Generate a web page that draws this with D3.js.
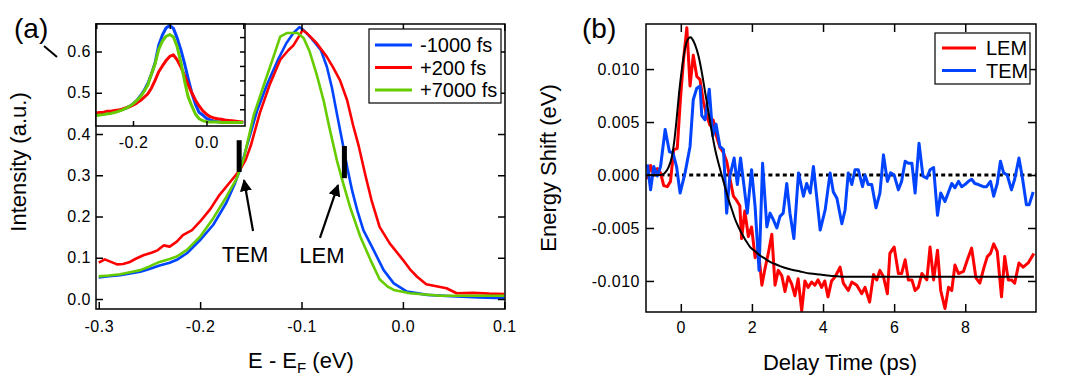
<!DOCTYPE html>
<html>
<head>
<meta charset="utf-8">
<script src="https://cdn.jsdelivr.net/npm/d3@7"></script>
<style>
body { margin: 0; background: #fff; }
svg text { font-family: "Liberation Sans", Arial, sans-serif; fill: #000; }
.tick text { font-size: 16px; letter-spacing: 0.5px; }
.tick line { stroke: #000; stroke-width: 1.5; }
</style>
</head>
<body>
<svg id="chart" width="1080" height="381"></svg>
<script>
// ---- panel (a): spectra, [E - EF (eV), intensity (a.u.)]
const specLabels = ['-1000 fs', '+200 fs', '+7000 fs'];
const specColors = ['#0044ff', '#ff0000', '#66cc00'];

const specBlue = [[-0.300,0.052],[-0.290,0.055],[-0.279,0.058],[-0.269,0.062],[-0.259,0.066],[-0.250,0.073],[-0.240,0.081],[-0.230,0.088],[-0.223,0.095],[-0.213,0.111],[-0.200,0.143],[-0.187,0.180],[-0.174,0.234],[-0.166,0.278],[-0.160,0.318],[-0.154,0.370],[-0.144,0.455],[-0.134,0.520],[-0.124,0.576],[-0.115,0.620],[-0.108,0.645],[-0.102,0.659],[-0.098,0.652],[-0.091,0.634],[-0.081,0.604],[-0.075,0.563],[-0.070,0.512],[-0.065,0.448],[-0.060,0.385],[-0.055,0.320],[-0.050,0.262],[-0.045,0.215],[-0.039,0.167],[-0.029,0.119],[-0.019,0.070],[-0.009,0.038],[0.004,0.018],[0.024,0.010],[0.053,0.006],[0.075,0.004],[0.100,0.002]];

const specRed = [[-0.300,0.088],[-0.294,0.096],[-0.288,0.090],[-0.282,0.084],[-0.276,0.085],[-0.270,0.089],[-0.264,0.097],[-0.256,0.106],[-0.248,0.112],[-0.242,0.118],[-0.236,0.130],[-0.230,0.127],[-0.223,0.139],[-0.217,0.155],[-0.208,0.167],[-0.200,0.188],[-0.190,0.218],[-0.181,0.252],[-0.170,0.285],[-0.161,0.312],[-0.155,0.338],[-0.150,0.372],[-0.141,0.452],[-0.131,0.522],[-0.121,0.580],[-0.113,0.603],[-0.108,0.615],[-0.103,0.635],[-0.099,0.652],[-0.095,0.645],[-0.085,0.620],[-0.075,0.587],[-0.069,0.562],[-0.062,0.530],[-0.055,0.482],[-0.049,0.420],[-0.044,0.375],[-0.037,0.300],[-0.031,0.240],[-0.023,0.175],[-0.013,0.135],[0.000,0.095],[0.007,0.072],[0.014,0.054],[0.023,0.036],[0.033,0.031],[0.043,0.026],[0.053,0.014],[0.069,0.015],[0.085,0.013],[0.100,0.012]];

const specGreen = [[-0.300,0.055],[-0.290,0.057],[-0.279,0.060],[-0.269,0.065],[-0.259,0.070],[-0.250,0.079],[-0.240,0.090],[-0.230,0.097],[-0.223,0.103],[-0.213,0.119],[-0.200,0.151],[-0.187,0.196],[-0.174,0.248],[-0.164,0.292],[-0.157,0.340],[-0.147,0.447],[-0.137,0.520],[-0.127,0.592],[-0.121,0.636],[-0.114,0.645],[-0.104,0.645],[-0.098,0.633],[-0.092,0.600],[-0.085,0.544],[-0.078,0.479],[-0.072,0.410],[-0.065,0.335],[-0.060,0.290],[-0.052,0.222],[-0.042,0.151],[-0.032,0.095],[-0.023,0.048],[-0.015,0.030],[-0.009,0.022],[0.007,0.014],[0.037,0.008],[0.070,0.008],[0.100,0.008]];

// inset spectra on a common energy grid
const insetE = d3.range(41).map(i => +(-0.30 + i * 0.01).toFixed(2));
const insetBlue = [0.447,0.448,0.449,0.450,0.452,0.454,0.456,0.459,0.462,0.467,0.473,0.481,0.492,0.505,0.522,0.545,0.572,0.615,0.640,0.657,0.663,0.656,0.633,0.605,0.572,0.535,0.500,0.472,0.452,0.446,0.438,0.434,0.431,0.430,0.429,0.429,0.428,0.428,0.428,0.428,0.428];
const insetRed = [0.451,0.452,0.453,0.455,0.455,0.457,0.458,0.460,0.463,0.466,0.470,0.475,0.481,0.489,0.497,0.511,0.530,0.551,0.565,0.578,0.588,0.592,0.580,0.563,0.542,0.520,0.500,0.482,0.468,0.456,0.448,0.442,0.439,0.437,0.436,0.434,0.433,0.432,0.431,0.430,0.429];
const insetGreen = [0.445,0.446,0.447,0.449,0.450,0.452,0.455,0.458,0.462,0.467,0.473,0.481,0.490,0.503,0.518,0.545,0.570,0.605,0.625,0.637,0.641,0.635,0.612,0.575,0.530,0.490,0.468,0.448,0.437,0.432,0.430,0.429,0.429,0.429,0.428,0.428,0.428,0.428,0.428,0.428,0.428];

const energyTicks = [-0.3, -0.2, -0.1, 0.0, 0.1];
const intensityTicks = [0.0, 0.1, 0.2, 0.3, 0.4, 0.5, 0.6];
const insetXTicks = [-0.2, 0.0];
const insetTopTicks = [-0.3, -0.1, 0.1];
const insetLeftTicks = [0.5, 0.6];
const insetRightTicks = [0.46, 0.495, 0.53, 0.565, 0.6, 0.635];

// ---- panel (b): energy shift vs delay, [delay (ps), shift (eV)]
const shiftLabels = ['LEM', 'TEM'];
const shiftColors = ['#ff0000', '#0044ff'];

const lemShift = [[-0.94,-0.0004],[-0.85,0.0009],[-0.76,0.0000],[-0.66,0.0006],[-0.57,0.0002],[-0.48,-0.0010],[-0.38,-0.0011],[-0.29,-0.0006],[-0.20,0.0024],[-0.10,0.0025],[-0.01,0.0072],[0.08,0.0110],[0.17,0.0139],[0.26,0.0084],[0.35,0.0113],[0.45,0.0093],[0.54,0.0090],[0.63,0.0070],[0.73,0.0056],[0.82,0.0047],[0.91,0.0052],[1.01,0.0036],[1.10,0.0026],[1.20,0.0021],[1.29,0.0013],[1.38,-0.0003],[1.48,-0.0020],[1.57,-0.0024],[1.66,-0.0029],[1.71,-0.0060],[1.80,-0.0034],[1.90,-0.0058],[1.99,-0.0049],[2.09,-0.0078],[2.18,-0.0070],[2.28,-0.0104],[2.37,-0.0088],[2.46,-0.0074],[2.56,-0.0056],[2.65,-0.0104],[2.74,-0.0090],[2.84,-0.0095],[2.93,-0.0110],[3.02,-0.0096],[3.12,-0.0103],[3.21,-0.0114],[3.30,-0.0098],[3.40,-0.0128],[3.49,-0.0100],[3.58,-0.0106],[3.68,-0.0101],[3.77,-0.0104],[3.86,-0.0099],[3.96,-0.0106],[4.05,-0.0100],[4.14,-0.0115],[4.24,-0.0100],[4.34,-0.0096],[4.48,-0.0087],[4.57,-0.0102],[4.71,-0.0109],[4.81,-0.0101],[4.95,-0.0104],[5.09,-0.0112],[5.18,-0.0106],[5.31,-0.0120],[5.42,-0.0094],[5.51,-0.0099],[5.60,-0.0090],[5.70,-0.0096],[5.81,-0.0112],[5.88,-0.0074],[6.00,-0.0068],[6.12,-0.0093],[6.21,-0.0093],[6.31,-0.0080],[6.40,-0.0099],[6.50,-0.0099],[6.59,-0.0109],[6.68,-0.0106],[6.78,-0.0093],[6.92,-0.0099],[7.01,-0.0068],[7.11,-0.0099],[7.22,-0.0071],[7.31,-0.0109],[7.43,-0.0126],[7.53,-0.0106],[7.62,-0.0109],[7.71,-0.0085],[7.81,-0.0093],[7.95,-0.0091],[8.06,-0.0080],[8.18,-0.0069],[8.30,-0.0097],[8.41,-0.0102],[8.53,-0.0087],[8.62,-0.0077],[8.71,-0.0074],[8.80,-0.0065],[8.90,-0.0072],[9.02,-0.0115],[9.11,-0.0077],[9.21,-0.0099],[9.30,-0.0099],[9.39,-0.0102],[9.51,-0.0083],[9.63,-0.0087],[9.77,-0.0083],[9.93,-0.0074]];

const temShift = [[-0.94,0.0010],[-0.85,-0.0014],[-0.76,0.0008],[-0.66,-0.0001],[-0.57,0.0008],[-0.44,0.0043],[-0.32,0.0022],[-0.22,0.0021],[-0.12,0.0008],[-0.02,-0.0017],[0.12,0.0002],[0.26,0.0027],[0.35,0.0071],[0.45,0.0082],[0.54,0.0084],[0.59,0.0056],[0.68,0.0052],[0.80,0.0081],[0.90,0.0037],[0.99,0.0048],[1.10,0.0027],[1.20,0.0024],[1.29,-0.0036],[1.38,-0.0001],[1.50,0.0016],[1.59,-0.0009],[1.68,0.0016],[1.78,-0.0011],[1.87,-0.0036],[1.99,0.0005],[2.09,-0.0030],[2.20,-0.0090],[2.30,0.0011],[2.42,-0.0049],[2.51,-0.0036],[2.60,-0.0042],[2.70,-0.0050],[2.79,-0.0039],[2.88,-0.0036],[2.98,-0.0008],[3.07,-0.0036],[3.18,-0.0060],[3.31,0.0002],[3.45,-0.0020],[3.54,-0.0008],[3.64,-0.0017],[3.73,0.0008],[3.82,-0.0020],[3.92,-0.0052],[4.06,-0.0033],[4.20,0.0002],[4.29,-0.0016],[4.39,-0.0022],[4.53,-0.0046],[4.62,-0.0033],[4.71,0.0002],[4.81,-0.0009],[4.90,0.0005],[4.99,0.0005],[5.11,-0.0011],[5.18,0.0000],[5.27,-0.0009],[5.37,-0.0009],[5.49,-0.0031],[5.60,-0.0017],[5.70,0.0019],[5.81,-0.0006],[5.90,0.0002],[6.00,0.0000],[6.12,-0.0014],[6.21,-0.0006],[6.31,0.0013],[6.40,0.0011],[6.50,0.0011],[6.59,-0.0017],[6.70,0.0030],[6.81,-0.0001],[6.92,-0.0003],[7.01,0.0005],[7.11,0.0007],[7.22,-0.0038],[7.31,-0.0017],[7.43,-0.0025],[7.53,-0.0016],[7.62,-0.0008],[7.71,-0.0012],[7.81,-0.0006],[7.90,-0.0011],[7.99,-0.0009],[8.09,-0.0006],[8.18,-0.0004],[8.27,-0.0008],[8.37,-0.0009],[8.51,-0.0011],[8.60,-0.0011],[8.71,-0.0006],[8.80,-0.0020],[8.90,-0.0008],[8.99,0.0013],[9.08,0.0002],[9.18,0.0000],[9.30,-0.0014],[9.39,-0.0004],[9.51,0.0016],[9.61,-0.0003],[9.72,-0.0028],[9.80,-0.0028],[9.91,-0.0016]];

const fitCurve = [[-0.94,0],[-0.58,0],[-0.45,0.0002],[-0.35,0.0007],[-0.26,0.0016],[-0.18,0.0033],[-0.12,0.0052],[-0.05,0.0077],[0.03,0.0100],[0.10,0.0116],[0.16,0.0125],[0.22,0.0129],[0.28,0.0130],[0.33,0.0128],[0.40,0.0123],[0.50,0.0112],[0.59,0.0097],[0.68,0.0079],[0.78,0.0059],[0.87,0.0041],[0.96,0.0025],[1.06,0.0011],[1.15,0.0000],[1.25,-0.0012],[1.34,-0.0023],[1.44,-0.0033],[1.53,-0.0042],[1.62,-0.0049],[1.71,-0.0055],[1.83,-0.0062],[1.95,-0.0068],[2.09,-0.0072],[2.23,-0.0076],[2.37,-0.0079],[2.51,-0.0082],[2.65,-0.0084],[2.79,-0.0086],[3.07,-0.0089],[3.35,-0.0091],[3.64,-0.0093],[3.92,-0.0094],[4.20,-0.0095],[4.60,-0.0096],[5.00,-0.0096],[6.00,-0.0096],[7.00,-0.0096],[8.00,-0.0096],[9.00,-0.0096],[9.93,-0.0096]];

const delayTicks = [0, 2, 4, 6, 8];
const shiftTicks = [-0.010, -0.005, 0.000, 0.005, 0.010];

const svg = d3.select('#chart');

// helper: ticks only (no domain line), inside the frame
function ticks(g, axis) {
    g.call(axis);
    g.select('.domain').remove();
}

// ================= panel (a) =================
const A = {left: 96, right: 505, top: 24, bottom: 309};
const xA = d3.scaleLinear().domain([-0.3027, 0.1007]).range([A.left, A.right]);
const yA = d3.scaleLinear().domain([-0.0242, 0.6667]).range([A.bottom, A.top]);

svg.append('clipPath').attr('id', 'clipA').append('rect')
    .attr('x', A.left).attr('y', A.top).attr('width', A.right - A.left).attr('height', A.bottom - A.top);

const lineA = d3.line().x(d => xA(d[0])).y(d => yA(d[1]));
const gA = svg.append('g');
gA.selectAll('path.spec')
    .data([specBlue, specRed, specGreen])
    .join('path')
    .attr('class', 'spec')
    .attr('clip-path', 'url(#clipA)')
    .attr('fill', 'none')
    .attr('stroke', (d, i) => specColors[i])
    .attr('stroke-width', 2.6)
    .attr('stroke-linejoin', 'round')
    .attr('d', lineA);

ticks(gA.append('g').attr('transform', `translate(0,${A.bottom})`),
    d3.axisBottom(xA).tickValues(energyTicks).tickSize(-7).tickPadding(12).tickFormat(d => d.toFixed(1)));
ticks(gA.append('g').attr('transform', `translate(0,${A.top})`),
    d3.axisTop(xA).tickValues(energyTicks).tickSize(-7).tickFormat(''));
ticks(gA.append('g').attr('transform', `translate(${A.left},0)`),
    d3.axisLeft(yA).tickValues(intensityTicks).tickSize(-7).tickPadding(5).tickFormat(d => d.toFixed(1)));
ticks(gA.append('g').attr('transform', `translate(${A.right},0)`),
    d3.axisRight(yA).tickValues(intensityTicks).tickSize(-7).tickFormat(''));

gA.append('rect')
    .attr('x', A.left).attr('y', A.top).attr('width', A.right - A.left).attr('height', A.bottom - A.top)
    .attr('fill', 'none').attr('stroke', '#000').attr('stroke-width', 1.5);

// inset
const I = {left: 96, right: 245, top: 24, bottom: 126};
const xI = d3.scaleLinear().domain([-0.3007, 0.1048]).range([I.left, I.right]);
const yI = d3.scaleLinear().domain([yA.invert(I.bottom), yA.invert(I.top)]).range([I.bottom, I.top]);

svg.append('clipPath').attr('id', 'clipI').append('rect')
    .attr('x', I.left).attr('y', I.top).attr('width', I.right - I.left).attr('height', I.bottom - I.top);

const gI = svg.append('g');
gI.append('rect')
    .attr('x', I.left).attr('y', I.top).attr('width', I.right - I.left).attr('height', I.bottom - I.top)
    .attr('fill', '#fff');

const lineI = d3.line().x((d, i) => xI(insetE[i])).y(d => yI(d));
gI.selectAll('path.inset')
    .data([insetBlue, insetRed, insetGreen])
    .join('path')
    .attr('class', 'inset')
    .attr('clip-path', 'url(#clipI)')
    .attr('fill', 'none')
    .attr('stroke', (d, i) => specColors[i])
    .attr('stroke-width', 3)
    .attr('stroke-linejoin', 'round')
    .attr('d', lineI);

ticks(gI.append('g').attr('transform', `translate(0,${I.bottom})`),
    d3.axisBottom(xI).tickValues(insetXTicks).tickSize(-5).tickPadding(11).tickFormat(d => d.toFixed(1)));
ticks(gI.append('g').attr('transform', `translate(0,${I.top})`),
    d3.axisTop(xI).tickValues(insetTopTicks).tickSize(-5).tickFormat(''));
ticks(gI.append('g').attr('transform', `translate(${I.left},0)`),
    d3.axisLeft(yI).tickValues(insetLeftTicks).tickSize(-6).tickFormat(''));
ticks(gI.append('g').attr('transform', `translate(${I.right},0)`),
    d3.axisRight(yI).tickValues(insetRightTicks).tickSize(-5).tickFormat(''));

gI.append('rect')
    .attr('x', I.left).attr('y', I.top).attr('width', I.right - I.left).attr('height', I.bottom - I.top)
    .attr('fill', 'none').attr('stroke', '#000').attr('stroke-width', 1.5);

// legend (a)
const legA = svg.append('g').attr('transform', 'translate(369,29)');
legA.append('rect').attr('width', 132).attr('height', 74)
    .attr('fill', '#fff').attr('stroke', '#000').attr('stroke-width', 1.2);
specLabels.forEach((s, i) => {
    const y = 16 + i * 22.5;
    legA.append('line').attr('x1', 6).attr('x2', 43).attr('y1', y).attr('y2', y)
        .attr('stroke', specColors[i]).attr('stroke-width', 3);
    legA.append('text').attr('x', 51).attr('y', y).attr('dy', '0.36em')
        .style('font-size', '20px').text(s);
});

// markers: TEM / LEM positions
const marks = [
    {label: 'TEM', bar: [-0.1615, 0.308, 0.385], tail: [-0.1478, 0.165], head: [-0.1567, 0.288], text: [-0.1557, 0.090]},
    {label: 'LEM', bar: [-0.0577, 0.293, 0.371], tail: [-0.0818, 0.148], head: [-0.0640, 0.276], text: [-0.0798, 0.087]}
];
svg.append('defs').append('marker')
    .attr('id', 'arrow').attr('viewBox', '0 0 10 10').attr('refX', 9).attr('refY', 5)
    .attr('markerWidth', 5.5).attr('markerHeight', 5.5).attr('markerUnits', 'strokeWidth')
    .attr('orient', 'auto')
    .append('path').attr('d', 'M0,0L10,5L0,10Z').attr('fill', '#000');

marks.forEach(m => {
    svg.append('line')
        .attr('x1', xA(m.bar[0])).attr('x2', xA(m.bar[0]))
        .attr('y1', yA(m.bar[1])).attr('y2', yA(m.bar[2]))
        .attr('stroke', '#000').attr('stroke-width', 5);
    svg.append('line')
        .attr('x1', xA(m.tail[0])).attr('y1', yA(m.tail[1]))
        .attr('x2', xA(m.head[0])).attr('y2', yA(m.head[1]))
        .attr('stroke', '#000').attr('stroke-width', 2.2)
        .attr('marker-end', 'url(#arrow)');
    svg.append('text')
        .attr('x', xA(m.text[0])).attr('y', yA(m.text[1]))
        .attr('text-anchor', 'middle').style('font-size', '22px').text(m.label);
});

svg.append('text').attr('x', 14).attr('y', 38).style('font-size', '28px').text('(a)');
svg.append('line').attr('x1', 44).attr('y1', 46).attr('x2', 57).attr('y2', 57)
    .attr('stroke', '#000').attr('stroke-width', 2);

svg.append('text')
    .attr('transform', 'translate(26,162) rotate(-90)')
    .attr('text-anchor', 'middle').style('font-size', '22px')
    .text('Intensity (a.u.)');

const xTitleA = svg.append('text').attr('x', 301).attr('y', 368)
    .attr('text-anchor', 'middle').style('font-size', '22px');
xTitleA.append('tspan').text('E - E');
xTitleA.append('tspan').attr('dy', 5).style('font-size', '15px').text('F');
xTitleA.append('tspan').attr('dy', -5).text(' (eV)');

// ================= panel (b) =================
const B = {left: 646, right: 1036, top: 24, bottom: 312};
const xB = d3.scaleLinear().domain([-0.979, 9.99]).range([B.left, B.right]);
const yB = d3.scaleLinear().domain([-0.01293, 0.014253]).range([B.bottom, B.top]);

svg.append('clipPath').attr('id', 'clipB').append('rect')
    .attr('x', B.left).attr('y', B.top).attr('width', B.right - B.left).attr('height', B.bottom - B.top);

const gB = svg.append('g');
gB.append('line')
    .attr('x1', B.left).attr('x2', B.right).attr('y1', yB(0)).attr('y2', yB(0))
    .attr('stroke', '#000').attr('stroke-width', 3).attr('stroke-dasharray', '4,3.2');

const lineB = d3.line().x(d => xB(d[0])).y(d => yB(d[1]));
gB.selectAll('path.shift')
    .data([lemShift, temShift])
    .join('path')
    .attr('class', 'shift')
    .attr('clip-path', 'url(#clipB)')
    .attr('fill', 'none')
    .attr('stroke', (d, i) => shiftColors[i])
    .attr('stroke-width', 3)
    .attr('stroke-linejoin', 'round')
    .attr('d', lineB);

gB.append('path')
    .datum(fitCurve)
    .attr('clip-path', 'url(#clipB)')
    .attr('fill', 'none').attr('stroke', '#000').attr('stroke-width', 2)
    .attr('d', lineB.curve(d3.curveMonotoneX));

ticks(gB.append('g').attr('transform', `translate(0,${B.bottom})`),
    d3.axisBottom(xB).tickValues(delayTicks).tickSize(-8).tickPadding(10));
ticks(gB.append('g').attr('transform', `translate(0,${B.top})`),
    d3.axisTop(xB).tickValues(delayTicks).tickSize(-8).tickFormat(''));
ticks(gB.append('g').attr('transform', `translate(${B.left},0)`),
    d3.axisLeft(yB).tickValues(shiftTicks).tickSize(-8).tickPadding(6).tickFormat(d => d.toFixed(3)));
ticks(gB.append('g').attr('transform', `translate(${B.right},0)`),
    d3.axisRight(yB).tickValues(shiftTicks).tickSize(-8).tickFormat(''));

gB.append('rect')
    .attr('x', B.left).attr('y', B.top).attr('width', B.right - B.left).attr('height', B.bottom - B.top)
    .attr('fill', 'none').attr('stroke', '#000').attr('stroke-width', 1.5);

// legend (b)
const legB = svg.append('g').attr('transform', 'translate(935,33)');
legB.append('rect').attr('width', 95).attr('height', 51)
    .attr('fill', '#fff').attr('stroke', '#000').attr('stroke-width', 1.2);
shiftLabels.forEach((s, i) => {
    const y = 15 + i * 22.5;
    legB.append('line').attr('x1', 7).attr('x2', 41).attr('y1', y).attr('y2', y)
        .attr('stroke', shiftColors[i]).attr('stroke-width', 3);
    legB.append('text').attr('x', 51).attr('y', y).attr('dy', '0.36em')
        .style('font-size', '20px').text(s);
});

svg.append('text').attr('x', 582).attr('y', 38).style('font-size', '28px').text('(b)');

svg.append('text')
    .attr('transform', `translate(556,${(B.top + B.bottom) / 2}) rotate(-90)`)
    .attr('text-anchor', 'middle').style('font-size', '22px')
    .text('Energy Shift (eV)');

svg.append('text').attr('x', 840).attr('y', 370)
    .attr('text-anchor', 'middle').style('font-size', '22px')
    .text('Delay Time (ps)');
</script>
</body>
</html>
